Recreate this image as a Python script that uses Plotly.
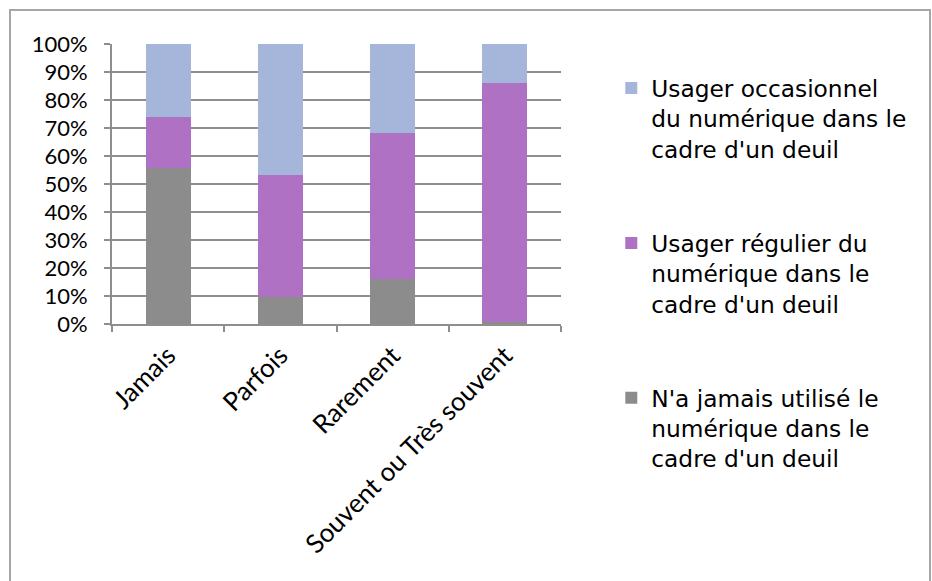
import plotly.graph_objects as go

categories = ["Jamais", "Parfois", "Rarement", "Souvent ou Très souvent"]
jamais_utilise = [55.6, 9.5, 16.0, 0.6]
usager_regulier = [18.3, 43.8, 52.1, 85.4]
usager_occasionnel = [26.1, 46.7, 31.9, 14.0]
y_ticks = [0, 10, 20, 30, 40, 50, 60, 70, 80, 90, 100]
y_tick_labels = [f"{v}%" for v in y_ticks]

names = [
    "N'a jamais utilisé le<br>numérique dans le<br>cadre d'un deuil",
    "Usager régulier du<br>numérique dans le<br>cadre d'un deuil",
    "Usager occasionnel<br>du numérique dans le<br>cadre d'un deuil",
]
colors = ["#8C8C8C", "#AE71C4", "#A6B6DA"]
series = [jamais_utilise, usager_regulier, usager_occasionnel]
ranks = [3, 2, 1]

fig = go.Figure()
for i, (nm, col, vals, rk) in enumerate(zip(names, colors, series, ranks)):
    fig.add_trace(go.Bar(
        x=categories, y=vals, name=nm, marker_color=col,
        marker_line_width=0, legendgroup=f"g{i}", legendrank=rk,
    ))

grid = "#8E8E8E"
fig.update_layout(
    barmode="stack",
    bargap=0.6,
    width=932, height=581,
    margin=dict(l=112, r=371, t=44, b=257),
    paper_bgcolor="white",
    plot_bgcolor="white",
    font=dict(family="Lato, Liberation Sans, sans-serif", size=22, color="black"),
    legend=dict(
        x=1.112, y=0.92, xanchor="left", yanchor="top",
        traceorder="grouped",
        tracegroupgap=61,
        valign="top",
        maxheight=700,
        font=dict(family="DejaVu Sans", size=23.3, color="black"),
        itemwidth=30,
    ),
    xaxis=dict(
        tickson="boundaries", ticks="outside", ticklen=6, tickcolor=grid, tickwidth=2,
        showline=True, linecolor=grid, linewidth=2,
        tickangle=-45, showgrid=False,
        tickfont=dict(family="Lato", size=26),
        ticklabelstandoff=4,
    ),
    yaxis=dict(
        range=[0, 100], tickvals=y_ticks, ticktext=y_tick_labels,
        ticks="outside", ticklen=6, tickcolor=grid, tickwidth=2,
        showline=True, linecolor=grid, linewidth=2,
        showgrid=True, gridcolor=grid, gridwidth=2,
        tickfont=dict(family="Lato", size=22),
        ticklabelstandoff=12,
        zeroline=False,
    ),
    shapes=[dict(
        type="rect", xref="paper", yref="paper",
        x0=(10 - 112) / 449, x1=(930 - 112) / 449,
        y0=(324 - 590) / 280, y1=(324 - 10) / 280,
        line=dict(color="#A6A6A6", width=2), fillcolor="rgba(0,0,0,0)", layer="below",
    )],
)

fig.write_html(
    "out.html",
    config={"displayModeBar": False},
    post_script="document.body.style.margin='0';document.body.style.overflow='hidden';",
)
